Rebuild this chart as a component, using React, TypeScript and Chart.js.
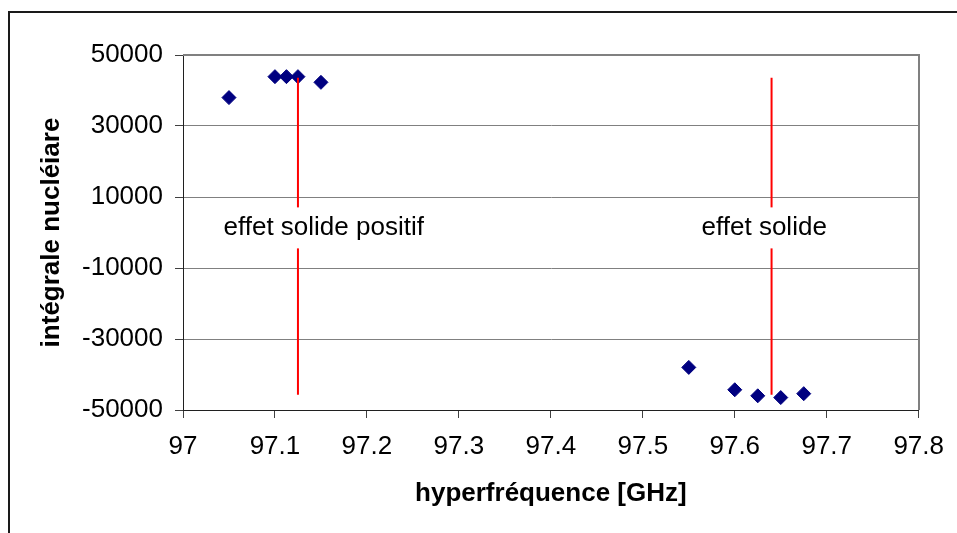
import React, { useEffect, useRef } from "react";
import { Chart, registerables } from "chart.js";

Chart.register(...registerables);

// ---- data ----
const freqPositive = [97.05, 97.1, 97.1125, 97.125, 97.15];
const integralPositive = [38000, 43900, 43900, 43900, 42300];
const freqNegative = [97.55, 97.6, 97.625, 97.65, 97.675];
const integralNegative = [-38000, -44300, -46000, -46500, -45400];

const markerFreqs = [97.125, 97.64];
const markerTop = 43600;
const markerBottom = -45700;
const markerLabels = ["effet solide positif", "effet solide"];
const markerLabelFreqs = [97.153, 97.632];
const markerLabelValue = 1300;

const xTickValues = [97, 97.1, 97.2, 97.3, 97.4, 97.5, 97.6, 97.7, 97.8];
const xTickLabels = ["97", "97.1", "97.2", "97.3", "97.4", "97.5", "97.6", "97.7", "97.8"];
const yTickValues = [-50000, -30000, -10000, 10000, 30000, 50000];
const yTickLabels = ["-50000", "-30000", "-10000", "10000", "30000", "50000"];

const xTitle = "hyperfréquence [GHz]";
const yTitle = "intégrale nucléiare";

const FONT = '"Liberation Sans", Arial, sans-serif';

export default function App() {
  const ref = useRef<HTMLCanvasElement | null>(null);

  useEffect(() => {
    const canvas = ref.current;
    if (!canvas) return;

    const points = [
      ...freqPositive.map((x, i) => ({ x, y: integralPositive[i] })),
      ...freqNegative.map((x, i) => ({ x, y: integralNegative[i] })),
    ];

    const markerSets = markerFreqs.map((f) => ({
      type: "line" as const,
      data: [
        { x: f, y: markerTop },
        { x: f, y: markerBottom },
      ],
      showLine: true,
      borderColor: "#FF0000",
      borderWidth: 2,
      pointRadius: 0,
      fill: false,
    }));

    const framePlugin = {
      id: "frame",
      beforeDraw(chart: any) {
        const ctx = chart.ctx;
        ctx.save();
        ctx.fillStyle = "#ffffff";
        ctx.fillRect(0, 0, chart.width, chart.height);
        ctx.strokeStyle = "#1a1a1a";
        ctx.lineWidth = 2;
        ctx.strokeRect(9, 12, 3000, 3000);
        ctx.restore();
      },
      beforeDatasetsDraw(chart: any) {
        const { ctx, chartArea } = chart;
        ctx.save();
        ctx.strokeStyle = "#808080";
        ctx.lineWidth = 2;
        ctx.beginPath();
        ctx.moveTo(chartArea.left, chartArea.top);
        ctx.lineTo(Math.round(chartArea.right), chartArea.top);
        ctx.lineTo(Math.round(chartArea.right), chartArea.bottom);
        ctx.stroke();
        ctx.restore();
      },
      afterDatasetsDraw(chart: any) {
        const { ctx } = chart;
        const xs = chart.scales.x;
        const ys = chart.scales.y;
        ctx.save();
        ctx.font = `26px ${FONT}`;
        ctx.textAlign = "center";
        ctx.textBaseline = "middle";
        markerLabels.forEach((label, i) => {
          const px = xs.getPixelForValue(markerLabelFreqs[i]);
          const py = ys.getPixelForValue(markerLabelValue);
          const w = ctx.measureText(label).width;
          ctx.fillStyle = "#ffffff";
          ctx.fillRect(px - w / 2 - 4, py - 20.5, w + 8, 41);
          ctx.fillStyle = "#000000";
          ctx.fillText(label, px, py);
        });
        ctx.restore();
      },
    };

    const chart = new Chart(canvas, {
      type: "scatter",
      data: {
        datasets: [
          ...markerSets,
          {
            type: "scatter" as const,
            data: points,
            pointStyle: "rectRot",
            pointRadius: 7,
            pointHoverRadius: 7,
            backgroundColor: "#000080",
            borderColor: "#000080",
            borderWidth: 1,
          },
        ] as any,
      },
      options: {
        responsive: false,
        animation: false,
        devicePixelRatio: 1,
        layout: { padding: { left: 8, right: 37.5, top: 55, bottom: 0 } },
        plugins: {
          legend: { display: false },
          tooltip: { enabled: false },
        },
        scales: {
          x: {
            type: "linear",
            min: 97,
            max: 97.8,
            afterBuildTicks: (scale: any) => {
              scale.ticks = xTickValues.map((v) => ({ value: v }));
            },
            afterFit: (scale: any) => {
              scale.height = 123;
            },
            ticks: {
              color: "#000",
              font: { family: FONT, size: 26 },
              padding: 13,
              maxRotation: 0,
              autoSkip: false,
              callback: (_v: any, i: number) => xTickLabels[i],
            },
            grid: {
              display: true,
              drawOnChartArea: false,
              drawTicks: true,
              tickLength: 8,
              tickColor: "#404040",
            },
            border: { display: true, color: "#202020", width: 1 },
            title: {
              display: true,
              text: xTitle,
              color: "#000",
              font: { family: FONT, size: 26, weight: "bold" },
              padding: { top: 0, bottom: 23.4 },
            },
          },
          y: {
            type: "linear",
            min: -50000,
            max: 50000,
            afterBuildTicks: (scale: any) => {
              scale.ticks = yTickValues.map((v) => ({ value: v }));
            },
            afterFit: (scale: any) => {
              scale.width = 175;
            },
            ticks: {
              color: "#000",
              font: { family: FONT, size: 26 },
              padding: 12,
              autoSkip: false,
              callback: (_v: any, i: number) => yTickLabels[i],
            },
            grid: {
              display: true,
              color: "#808080",
              lineWidth: 1,
              drawTicks: true,
              tickLength: 8,
              tickColor: "#404040",
            },
            border: { display: true, color: "#202020", width: 1 },
            title: {
              display: true,
              text: yTitle,
              color: "#000",
              font: { family: FONT, size: 26, weight: "bold" },
              padding: { top: 28.4, bottom: 0 },
            },
          },
        },
      },
      plugins: [framePlugin],
    } as any);

    return () => chart.destroy();
  }, []);

  return (
    <div style={{ position: "fixed", left: 0, top: 0, width: 957, height: 533, background: "#fff" }}>
      <canvas ref={ref} width={957} height={533} style={{ display: "block" }} />
    </div>
  );
}
